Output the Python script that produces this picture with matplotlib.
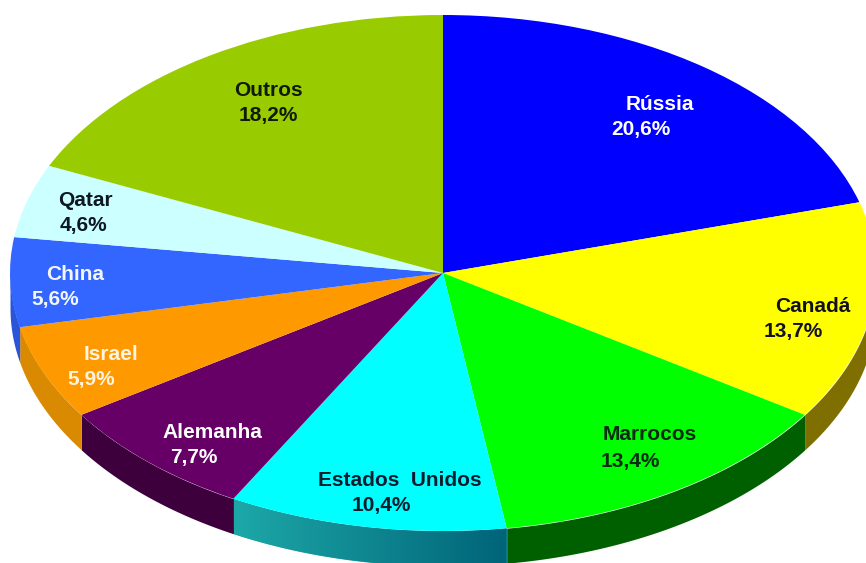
import matplotlib.pyplot as plt
from matplotlib.colors import LinearSegmentedColormap
import numpy as np

COUNTRIES = ["Rússia", "Canadá", "Marrocos", "Estados  Unidos", "Alemanha",
             "Israel", "China", "Qatar", "Outros"]
SHARES = [20.6, 13.7, 13.4, 10.4, 7.7, 5.9, 5.6, 4.6, 18.2]

TOP_COLORS = ["#0000FF", "#FFFF00", "#00FF00", "#00FFFF", "#660066",
              "#FF9900", "#3366FF", "#CCFFFF", "#99CC00"]
# side wall shading, left end then right end of each slice
SIDE_LEFT = ["#000080", "#7F6F00", "#006000", "#1DA8A8", "#3D003D",
             "#D98A00", "#2A55D8", "#99BFBF", "#5C7A00"]
SIDE_RIGHT = ["#000080", "#7F6F00", "#006000", "#006478", "#3D003D",
              "#D98A00", "#2A55D8", "#99BFBF", "#5C7A00"]
TEXT_COLORS = ["white", "#111122", "#0A2A12", "#0A1E30", "white",
               "#FFF4E0", "#F2F6FF", "#0C1824", "#101A08"]

# label centres in image pixels: (name x, name y, share x, share y)
LABEL_PX = [(660, 104, 641, 129), (813, 307, 793, 332), (650, 435, 630, 461),
            (400, 480, 381, 506), (212, 433, 194, 458), (111, 355, 91, 380),
            (75, 275, 55, 300), (85, 200, 83, 225), (268, 91, 268, 116)]

WIDTH, HEIGHT = 866, 563
CX, CY = 443, 273
RX, RY = 433, 258
DEPTH = 35
FLAT = RY / RX  # data units are squashed vertically to get the tilted look


def to_data(px, py):
    return px, (CY - py) / FLAT


def draw_side(ax, start, stop, left, right):
    # only the front half of the rim is visible
    lo, hi = max(stop, -180.0), min(start, 0.0)
    if lo >= hi:
        return
    t = np.radians(np.linspace(lo, hi, 120))
    x = CX + RX * np.cos(t)
    y = RX * np.sin(t)
    wall = ax.fill_between(x, y, y - DEPTH / FLAT, color=left, linewidth=0, zorder=1)
    if left != right:
        # horizontal shading, clipped to the wall shape
        cmap = LinearSegmentedColormap.from_list("wall", [left, right])
        img = ax.imshow(np.linspace(0, 1, 256).reshape(1, -1), cmap=cmap, aspect="auto",
                        extent=(x.min(), x.max(), (y - DEPTH / FLAT).min(), y.max()), zorder=1)
        img.set_clip_path(wall.get_paths()[0], transform=ax.transData)


def main():
    plt.rcParams["font.family"] = ["Liberation Sans", "DejaVu Sans"]
    fig = plt.figure(figsize=(WIDTH / 100, HEIGHT / 100), dpi=100)
    ax = fig.add_axes([0, 0, 1, 1])

    shares = np.array(SHARES)
    bounds = 90 - 360 * np.concatenate([[0], np.cumsum(shares)]) / shares.sum()
    for i in range(len(shares)):
        draw_side(ax, bounds[i], bounds[i + 1], SIDE_LEFT[i], SIDE_RIGHT[i])

    wedges, _ = ax.pie(SHARES, colors=TOP_COLORS, startangle=90, counterclock=False,
                       radius=RX, center=(CX, 0), wedgeprops={"linewidth": 0})
    for w in wedges:
        w.set_zorder(2)

    ax.set_aspect("auto")
    ax.set_xlim(0, WIDTH)
    ax.set_ylim((CY - HEIGHT) / FLAT, CY / FLAT)
    ax.axis("off")

    for name, share, col, pos in zip(COUNTRIES, SHARES, TEXT_COLORS, LABEL_PX):
        nx, ny = to_data(pos[0], pos[1])
        sx, sy = to_data(pos[2], pos[3])
        ax.text(nx, ny, name, color=col, fontsize=15, fontweight="bold",
                ha="center", va="center", zorder=3)
        ax.text(sx, sy, f"{share:.1f}%".replace(".", ","), color=col, fontsize=15,
                fontweight="bold", ha="center", va="center", zorder=3)

    fig.savefig("out.png", dpi=100)


if __name__ == "__main__":
    main()
